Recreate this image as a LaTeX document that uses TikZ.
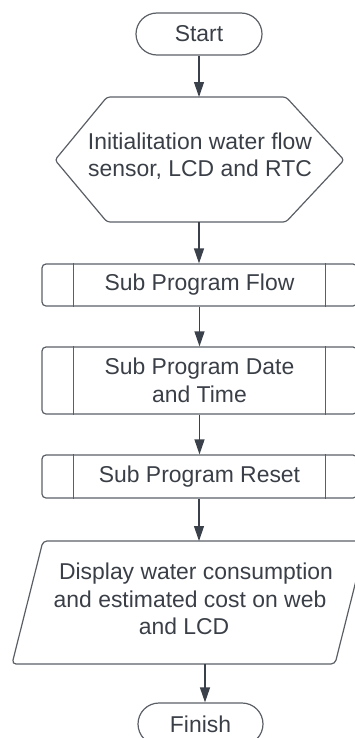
\documentclass[tikz,border=0pt]{standalone}
\usepackage{fontspec}
\setmainfont{Liberation Sans}
\usetikzlibrary{arrows.meta}
\definecolor{edgec}{HTML}{5A5F66}
\definecolor{arrc}{HTML}{3B414A}
\definecolor{txtc}{HTML}{3A3F47}
\begin{document}
\begin{tikzpicture}[x=1bp,y=-1bp,
  outline/.style={draw=edgec, line width=1.2bp, rounded corners=4bp},
  lbl/.style={text=txtc, font=\fontsize{23}{27.5}\selectfont, align=center, inner sep=0pt},
  subbox/.style={outline, minimum width=315bp},
  arr/.style={draw=arrc, line width=1.2bp, -{Triangle[length=15bp,width=10bp]}}]
\useasboundingbox (0,0) rectangle (354,738);
% Start
\node[outline, rounded corners=21bp, minimum width=126bp, minimum height=42bp, lbl] (start) at (199,34) {Start};
% Initialisation hexagon
\draw[outline, rounded corners=3bp] (55,160) -- (107,97) -- (286,97) -- (344,160) -- (286,222) -- (107,222) -- cycle;
\coordinate (inittop) at (199,97);
\coordinate (initbot) at (199,222);
\node[lbl] (init) at (200,156) {Initialitation water flow\\sensor, LCD and RTC};
% Sub programs
\node[subbox, minimum height=42bp, lbl] (flow) at (199.5,285) {Sub Program Flow};
\node[subbox, minimum height=67bp, lbl] (date) at (199.5,380.5) {Sub Program Date\\and Time};
\node[subbox, minimum height=43bp, lbl] (reset) at (199.5,476.5) {Sub Program Reset};
\foreach \b in {flow,date,reset}{
  \draw[draw=edgec, line width=1.2bp] ([xshift=32bp]\b.north west) -- ([xshift=32bp]\b.south west);
  \draw[draw=edgec, line width=1.2bp] ([xshift=-32bp]\b.north east) -- ([xshift=-32bp]\b.south east);
}
% Display parallelogram
\draw[outline] (43,541) -- (366,541) -- (335,664) -- (12,664) -- cycle;
\coordinate (disptop) at (199,541);
\coordinate (dispbot) at (205,664);
\node[lbl] (disp) at (190,599) {\hspace*{12bp}Display water consumption\\and estimated cost on web\\and LCD\hspace*{12bp}};
% Finish
\node[outline, rounded corners=21bp, minimum width=125bp, minimum height=42bp, lbl] (finish) at (200.5,724) {Finish};
% Connectors
\draw[arr] (start.south) -- (inittop);
\draw[arr] (initbot) -- (initbot |- flow.north);
\draw[arr] (flow.south) -- (date.north);
\draw[arr] (date.south) -- (reset.north);
\draw[arr] (reset.south -| disptop) -- (disptop);
\draw[arr] (dispbot) -- (dispbot |- finish.north);
\end{tikzpicture}
\end{document}
